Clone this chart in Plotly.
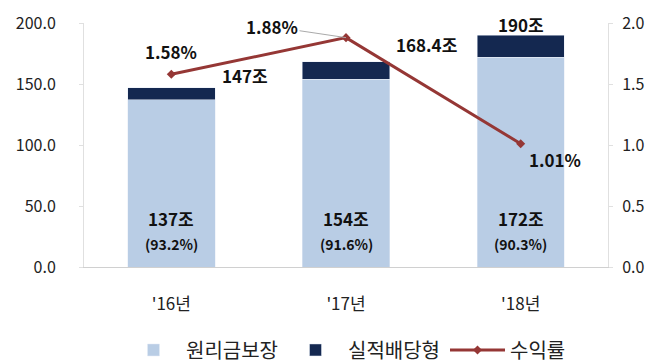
import plotly.graph_objects as go

categories = ["'16년", "'17년", "'18년"]
guaranteed = [137, 154, 172]
performance = [10, 14.4, 18]
totals = [147, 168.4, 190]
yield_rate = [1.58, 1.88, 1.01]
share = ["93.2%", "91.6%", "90.3%"]

FONT = "Noto Sans CJK KR"
fig = go.Figure()
fig.add_trace(go.Bar(x=categories, y=guaranteed, name="원리금보장", marker_color="#B9CDE5", width=0.5))
fig.add_trace(go.Bar(x=categories, y=performance, name="실적배당형", marker_color="#142850", width=0.5))
fig.add_trace(go.Scatter(x=categories, y=yield_rate, name="수익률", yaxis="y2", mode="lines+markers",
                         line=dict(color="#953735", width=3), marker=dict(symbol="diamond", size=7, color="#953735")))

ann = []
for i, c in enumerate(categories):
    ann.append(dict(x=c, y=40, text=f"<b>{guaranteed[i]}조</b>", showarrow=False,
                    font=dict(size=17, color="#111")))
    ann.append(dict(x=c, y=19, text=f"<b>({share[i]})</b>", showarrow=False, font=dict(size=14, color="#111")))

ann.append(dict(x=0, y=yield_rate[0], yref="y2", text="<b>1.58%</b>", showarrow=False, yshift=23, font=dict(size=17, color="#111")))
ann.append(dict(x=0, y=totals[0], text="<b>147조</b>", showarrow=False, xshift=74, yshift=12, font=dict(size=17, color="#111")))
ann.append(dict(x=1, y=yield_rate[1], yref="y2", text="<b>1.88%</b>", showarrow=True, arrowhead=0, arrowcolor="#aaa",
                arrowwidth=1, ax=-74, ay=-11, font=dict(size=17, color="#111")))
ann.append(dict(x=1, y=totals[1], text="<b>168.4조</b>", showarrow=False, xshift=80, yshift=17, font=dict(size=17, color="#111")))
ann.append(dict(x=2, y=totals[2], text="<b>190조</b>", showarrow=False, yshift=11, font=dict(size=17, color="#111")))
ann.append(dict(x=2, y=yield_rate[2], yref="y2", text="<b>1.01%</b>", showarrow=False, xshift=34, yshift=-16, font=dict(size=17, color="#111")))

fig.update_layout(
    barmode="stack",
    width=662, height=356,
    margin=dict(l=76, r=62, t=15, b=97, autoexpand=False),
    paper_bgcolor="white", plot_bgcolor="white",
    font=dict(family=FONT, size=16, color="#222"),
    showlegend=True,
    legend=dict(orientation="h", x=0.5, xanchor="center", y=-0.34, yanchor="middle", traceorder="normal",
                font=dict(size=20, color="#222"), itemwidth=55),
    xaxis=dict(showline=True, linecolor="#d0d0d0", ticks="", tickfont=dict(size=17), ticklabelstandoff=22),
    yaxis=dict(range=[0, 200], dtick=50, tickformat=".1f", showgrid=False, showline=True, linecolor="#e0e0e0",
               ticks="outside", tickcolor="#e0e0e0", ticklen=4, tickfont=dict(size=16), ticklabelstandoff=20,
               ticklabeloverflow="allow"),
    yaxis2=dict(range=[0, 2], dtick=0.5, tickformat=".1f", overlaying="y", side="right", showgrid=False,
                showline=True, linecolor="#e0e0e0", ticks="outside", tickcolor="#e0e0e0", ticklen=4,
                tickfont=dict(size=16), ticklabelstandoff=6, ticklabeloverflow="allow"),
    annotations=ann,
)
fig.write_html("out.html")
